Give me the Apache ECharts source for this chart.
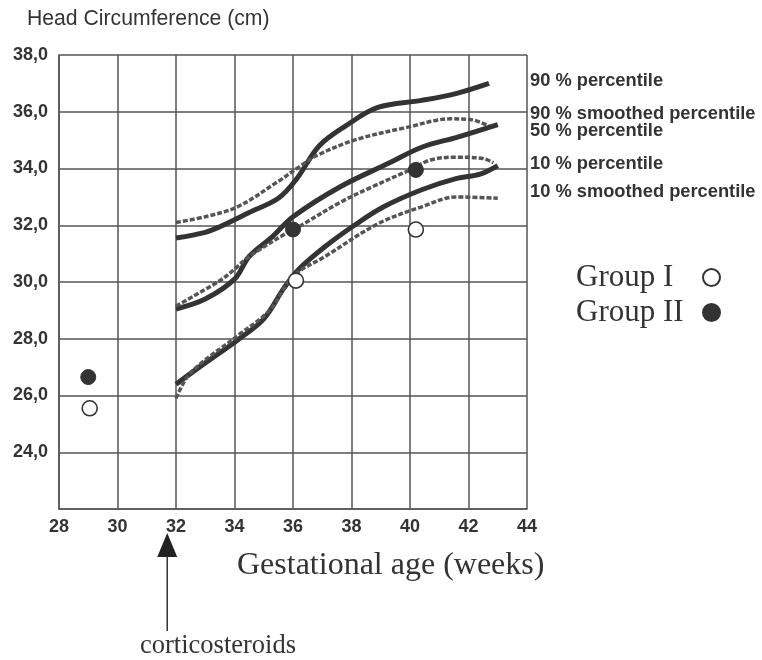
<!DOCTYPE html>
<html><head><meta charset="utf-8">
<script src="https://cdn.jsdelivr.net/npm/echarts@6/dist/echarts.min.js"></script>
<style>html,body{margin:0;padding:0;background:#fff}#c{width:762px;height:660px}</style>
</head><body><div id="c"></div>
<script>
const xTicks = [28,30,32,34,36,38,40,42,44];
const yTicks = [22,24,26,28,30,32,34,36,38];
const p90 = [[32,31.55],[33,31.75],[33.5,31.95],[34.5,32.45],[35.5,32.95],[36.1,33.6],[36.9,34.8],[37.8,35.5],[38.9,36.15],[40.4,36.4],[41.6,36.65],[42.7,37.0]];
const p90s = [[32,32.1],[33,32.3],[34.1,32.65],[35.5,33.55],[36.2,34.05],[36.8,34.45],[38.1,35.0],[39.9,35.45],[41.4,35.75],[42.1,35.72],[42.7,35.5]];
const p50 = [[32,29.05],[33,29.4],[34,30.1],[34.5,30.9],[35.3,31.6],[36,32.3],[37.6,33.35],[39.3,34.2],[40.4,34.75],[41.6,35.1],[43,35.55]];
const p50s = [[32,29.15],[33.5,30.05],[34,30.45],[34.5,30.9],[35.9,31.8],[36.2,31.95],[37.6,32.8],[38.7,33.35],[40,33.95],[40.7,34.3],[41.6,34.4],[42.5,34.35],[42.85,34.2]];
const p10 = [[32,26.4],[33,27.15],[34.1,27.95],[35,28.7],[35.7,29.8],[36.2,30.45],[37.1,31.25],[38.1,32.0],[39.1,32.65],[40.4,33.25],[41.6,33.65],[42.4,33.8],[43,34.1]];
const p10s = [[32,25.9],[32.5,26.8],[34.1,28.1],[35.2,29.0],[36,30.2],[37.1,30.9],[38.9,32.05],[40.4,32.65],[41.6,33.0],[43,32.95]];
const groupI = [[29.05,25.55],[36.1,30.05],[40.2,31.85]];
const groupII = [[29.0,26.65],[36.0,31.85],[40.2,33.95]];
const curveLabels = [
  {text:'90 % percentile', y:82},
  {text:'90 % smoothed percentile', y:115},
  {text:'50 % percentile', y:132},
  {text:'10 % percentile', y:165},
  {text:'10 % smoothed percentile', y:193}
];
const arrowWeek = 31.7;

const SANS = 'Liberation Sans, Arial, sans-serif';
const SERIF = 'Liberation Serif, Times New Roman, serif';
const chart = echarts.init(document.getElementById('c'));
const solid = {color:'#333', width:5, type:'solid'};
const dashed = {color:'#555', width:3.5, type:[5,2]};
function line(name, data, style){
  return {name, type:'line', data, smooth:0.35, symbol:'none', lineStyle:style, z:3, silent:true};
}
const option = {
  animation:false,
  backgroundColor:'#fff',
  grid:{left:59, right:235, top:55, bottom:151},
  xAxis:{type:'value', min:28, max:44, interval:2,
    axisLine:{show:true, lineStyle:{color:'#555', width:1.5}},
    axisTick:{show:false},
    axisLabel:{color:'#333', fontWeight:700, fontSize:18, fontFamily:SANS, margin:9},
    splitLine:{show:true, lineStyle:{color:'#555', width:1.5}}},
  yAxis:{type:'value', min:22, max:38, interval:2,
    axisLine:{show:true, lineStyle:{color:'#555', width:1.5}},
    axisTick:{show:false},
    axisLabel:{color:'#333', fontWeight:700, fontSize:18, fontFamily:SANS, margin:11,
      formatter:v => v===22 ? '' : v.toFixed(1).replace('.',',')},
    splitLine:{show:true, lineStyle:{color:'#555', width:1.5}}},
  legend:{data:['Group I','Group II'], orient:'vertical', align:'right', left:571, top:257,
    itemGap:4, itemWidth:17, itemHeight:17, selectedMode:false,
    formatter: n => '{t|' + n + '}',
    textStyle:{fontFamily:SERIF, fontSize:31, color:'#333',
      rich:{t:{width:122, align:'left', fontFamily:SERIF, fontSize:31, lineHeight:34, color:'#333'}}}},
  series:[
    line('90 % percentile', p90, solid),
    line('90 % smoothed percentile', p90s, dashed),
    line('50 % percentile', p50, solid),
    line('50 % smoothed percentile', p50s, dashed),
    line('10 % percentile', p10, solid),
    line('10 % smoothed percentile', p10s, dashed),
    {name:'Group I', type:'scatter', data:groupI, symbol:'circle', symbolSize:15, z:5,
      itemStyle:{color:'#fff', borderColor:'#333', borderWidth:1.6, opacity:1}},
    {name:'Group II', type:'scatter', data:groupII, symbol:'circle', symbolSize:15, z:5,
      itemStyle:{color:'#333', borderColor:'#333', borderWidth:1, opacity:1}}
  ]
};
chart.setOption(option);
const ax = chart.convertToPixel({xAxisIndex:0}, arrowWeek);
chart.setOption({graphic:[
  {type:'text', left:27, top:9, style:{text:'Head Circumference (cm)', fontFamily:SANS, fontSize:21.2, fill:'#333'}},
  {type:'text', left:237, top:550, style:{text:'Gestational age (weeks)', fontFamily:SERIF, fontSize:32, fill:'#333'}},
  {type:'text', left:140, top:633, style:{text:'corticosteroids', fontFamily:SERIF, fontSize:26.5, fill:'#333'}}
].concat(curveLabels.map(l => ({type:'text', left:530, top:l.y-10, style:{text:l.text, fontFamily:SANS, fontWeight:'bold', fontSize:18.3, fill:'#333'}}))).concat([
  {type:'polygon', shape:{points:[[ax-10,557],[ax+10,557],[ax,533]]}, style:{fill:'#222'}},
  {type:'line', shape:{x1:ax, y1:556, x2:ax, y2:631}, style:{stroke:'#333', lineWidth:1.5}}
])}, {replaceMerge:['graphic']});
</script></body></html>
